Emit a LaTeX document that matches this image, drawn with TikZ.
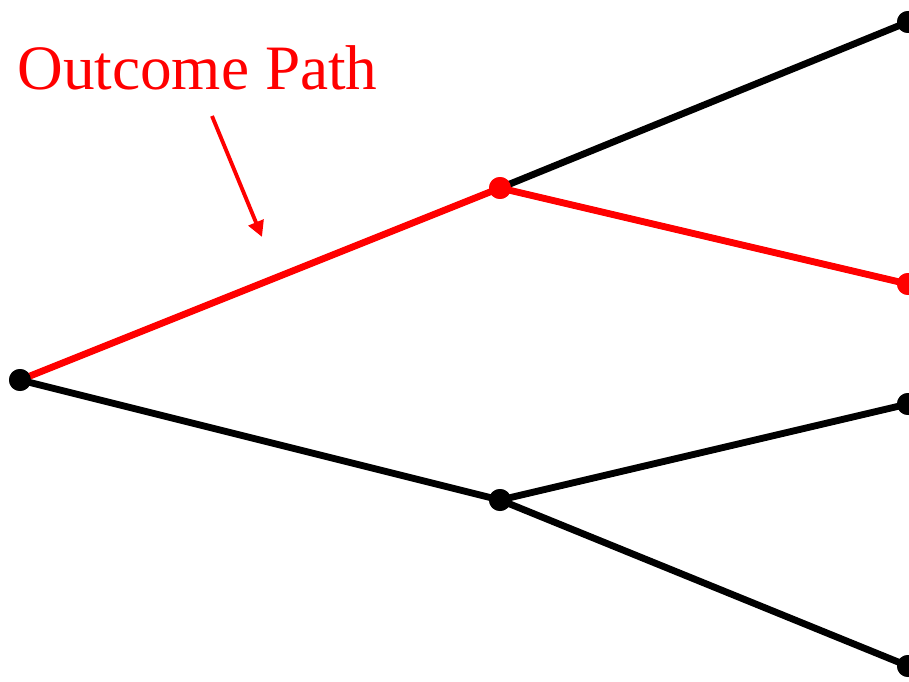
\documentclass[tikz,border=0pt]{standalone}
\usepackage{fontspec}
\setmainfont{Liberation Serif}
\usetikzlibrary{arrows.meta, positioning}

\tikzset{
  no/.style={circle, fill=black, inner sep=0pt, minimum size=0.44cm},
  ramo/.style={line width=3.9pt},
}

\begin{document}
\begin{tikzpicture}[x=0.02cm, y=-0.02cm]
% --- ARVORE DE RESULTADOS ---
\definecolor{caminho}{HTML}{FF0000}
\useasboundingbox (0,0) rectangle (909,682);

% LAYER 1: Nos
\node[no] (raiz) at (20,380) {};
\node[no, fill=caminho] (sup) at (500,188) {};
\node[no] (inf) at (500,500) {};
\node[no] (f1) at (908,22) {};
\node[no, fill=caminho] (f2) at (908,284) {};
\node[no] (f3) at (908,404) {};
\node[no] (f4) at (908,666) {};

% LAYER 2: Ramos
\draw[ramo] (raiz.center) -- (inf.center);
\draw[ramo] (sup.center) -- (f1.center);
\draw[ramo] (inf.center) -- (f3.center);
\draw[ramo] (inf.center) -- (f4.center);
% Caminho do resultado (vermelho)
\draw[ramo, caminho] (raiz.center) -- (sup.center) -- (f2.center);

% LAYER 3: redesenha os nos por cima
\foreach \n in {raiz, inf, f1, f3, f4}
  \fill (\n) circle (0.22cm);
\foreach \n in {sup, f2}
  \fill[caminho] (\n) circle (0.22cm);

% LAYER 4: Rotulo
\node[text=caminho, font=\fontsize{36}{42}\selectfont, anchor=base west, inner sep=0pt] (rotulo) at (17,90) {Outcome Path};
\coordinate (ponta) at (262,237);
\draw[caminho, line width=2.2pt, -{Triangle[length=9pt, width=9pt]}] (212,116) -- (ponta);
\end{tikzpicture}
\end{document}
